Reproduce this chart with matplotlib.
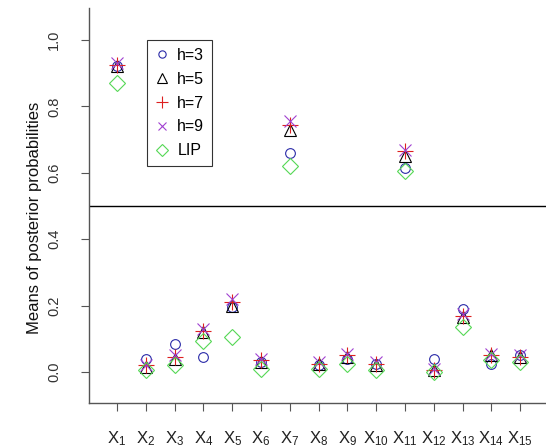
import matplotlib
matplotlib.use("Agg")
import matplotlib.pyplot as plt
import numpy as np

plt.rcParams['font.family'] = ['Liberation Sans', 'DejaVu Sans']
plt.rcParams['mathtext.fontset'] = 'custom'
plt.rcParams['mathtext.rm'] = 'Liberation Sans'
plt.rcParams['mathtext.it'] = 'Liberation Sans'

categories = [f"$\\mathrm{{X}}_{{{i}}}$" for i in range(1, 16)]
h3 = [0.92, 0.04, 0.085, 0.045, 0.195, 0.03, 0.66, 0.02, 0.04, 0.025, 0.615, 0.04, 0.19, 0.025, 0.05]
h5 = [0.92, 0.015, 0.04, 0.12, 0.20, 0.03, 0.73, 0.025, 0.045, 0.02, 0.65, 0.005, 0.165, 0.05, 0.045]
h7 = [0.925, 0.02, 0.045, 0.125, 0.21, 0.035, 0.745, 0.025, 0.05, 0.025, 0.665, 0.005, 0.17, 0.05, 0.045]
h9 = [0.93, 0.02, 0.05, 0.13, 0.22, 0.04, 0.755, 0.03, 0.055, 0.03, 0.67, 0.01, 0.175, 0.055, 0.05]
lip = [0.87, 0.005, 0.02, 0.095, 0.105, 0.01, 0.62, 0.01, 0.025, 0.005, 0.605, 0.0, 0.135, 0.035, 0.03]
threshold = 0.5

fig = plt.figure(figsize=(5.46, 4.48), dpi=100)
ax = fig.add_axes([89/546, 1-403/448, 1-89/546, (403-8)/448])
x = np.arange(1, 16)

lw = 0.8
ax.plot(x, h3, linestyle='none', marker='o', ms=7, mfc='none', mec='#2a2aa8', mew=lw, label='h=3')
ax.plot(x, h5, linestyle='none', marker='^', ms=9, mfc='none', mec='black', mew=lw, label='h=5')
ax.plot(x, h7, linestyle='none', marker='+', ms=11, mfc='none', mec='#dd2020', mew=lw, label='h=7')
ax.plot(x, h9, linestyle='none', marker='x', ms=8, mfc='none', mec='#a040d0', mew=lw, label='h=9')
ax.plot(x, lip, linestyle='none', marker='D', ms=8, mfc='none', mec='#55d855', mew=lw, label='LIP')
ax.axhline(threshold, color='black', lw=1)

ax.set_xlim(0.028, 15.9)
ax.set_ylim(-0.093, 1.096)
ax.spines['top'].set_visible(False)
ax.spines['right'].set_visible(False)
for s in ('left', 'bottom'):
    ax.spines[s].set_color('#555555')
    ax.spines[s].set_linewidth(1)

ax.set_xticks(x)
ax.set_xticklabels(categories, fontsize=12, color='#222222')
ax.set_yticks([0.0, 0.2, 0.4, 0.6, 0.8, 1.0])
ax.set_yticklabels(['0.0', '0.2', '0.4', '0.6', '0.8', '1.0'], rotation=90, va='center', fontsize=10.5, color='#333333')
ax.tick_params(axis='both', direction='out', length=6, width=0.8, color='#555555')
ax.tick_params(axis='x', pad=13)
ax.tick_params(axis='y', pad=14)
fig.text(35/546, 1-218/448, 'Means of posterior probabilities', rotation=90,
         ha='center', va='center', fontsize=12, color='#111111')

leg = ax.legend(loc='upper left', bbox_to_anchor=((147-89)/457, (403-40)/395), frameon=True,
                fancybox=False, edgecolor='black', fontsize=11.5, handletextpad=0.5,
                borderpad=0.5, borderaxespad=0, labelspacing=0.55, handlelength=0.9,
                markerscale=0.75)
leg.get_frame().set_linewidth(0.8)

fig.savefig('out.png', dpi=100)
